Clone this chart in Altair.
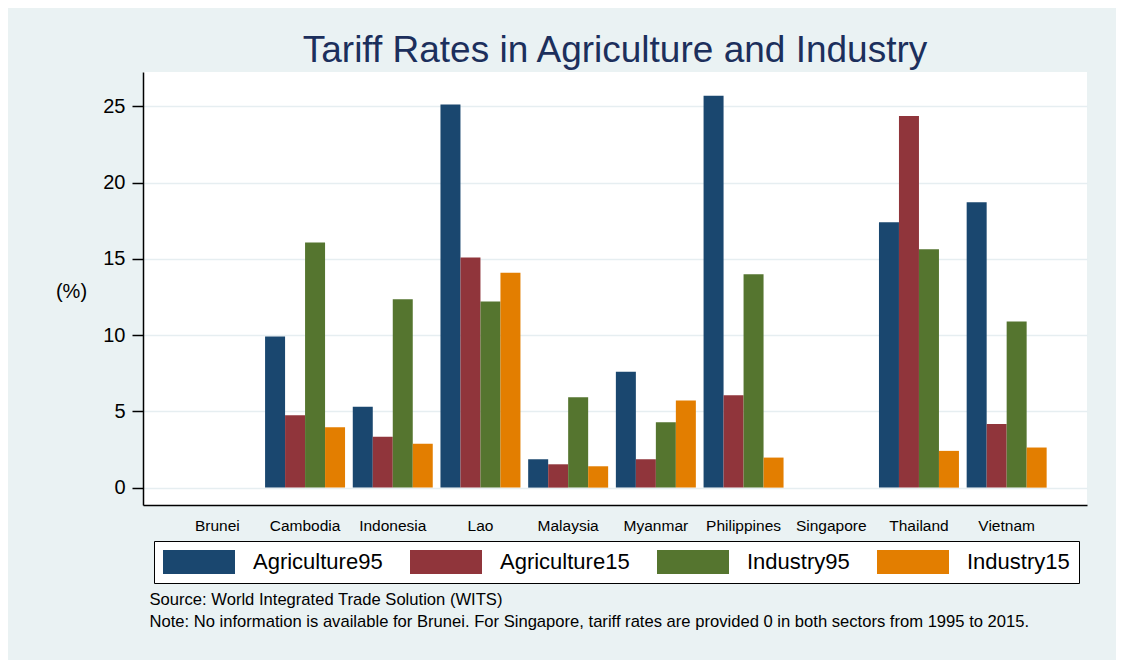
import altair as alt
import pandas as pd

countries = ["Brunei", "Cambodia", "Indonesia", "Lao", "Malaysia", "Myanmar",
             "Philippines", "Singapore", "Thailand", "Vietnam"]
series = ["Agriculture95", "Agriculture15", "Industry95", "Industry15"]
colors = ["#1a476f", "#90353b", "#55752f", "#e37e00"]

agriculture95 = [None, 9.91, 5.30, 25.13, 1.86, 7.60, 25.70, 0.0, 17.40, 18.72]
agriculture15 = [None, 4.75, 3.33, 15.10, 1.53, 1.86, 6.06, 0.0, 24.37, 4.18]
industry95 = [None, 16.08, 12.36, 12.20, 5.93, 4.29, 13.99, 0.0, 15.63, 10.90]
industry15 = [None, 3.96, 2.87, 14.10, 1.40, 5.71, 1.97, 0.0, 2.41, 2.63]

y_ticks = [0, 5, 10, 15, 20, 25]

rows = []
for s, vals in zip(series, [agriculture95, agriculture15, industry95, industry15]):
    for c, v in zip(countries, vals):
        rows.append({"country": c, "series": s, "value": v})
df = pd.DataFrame(rows)

FONT = "Liberation Sans"

bars = alt.Chart(df).mark_bar().encode(
    x=alt.X("country:N", sort=countries,
            scale=alt.Scale(paddingInner=0.088, paddingOuter=0.426, align=0.46),
            axis=alt.Axis(
                title=["Source: World Integrated Trade Solution (WITS)",
                       "Note: No information is available for Brunei. For Singapore, tariff rates are provided 0 in both sectors from 1995 to 2015."],
                titleX=6, titleY=99, titleAlign="left", titleAnchor="start",
                titleBaseline="alphabetic", titleAngle=0,
                titleFont=FONT, titleFontSize=16.6, titleFontWeight="normal",
                titleColor="black", titleLineHeight=22,
                labelAngle=0, labelFont=FONT, labelFontSize=15.5, labelColor="black",
                labelPadding=13, ticks=False, grid=False,
                domainColor="black", domainWidth=1.5)),
    xOffset=alt.XOffset("series:N", sort=series,
                        scale=alt.Scale(paddingInner=0, paddingOuter=0)),
    y=alt.Y("value:Q",
            scale=alt.Scale(domain=[-1.14, 27.26], nice=False, zero=False),
            axis=alt.Axis(
                title="(%)", titleAngle=0, titleX=-72, titleY=219,
                titleAlign="center", titleBaseline="middle",
                titleFont=FONT, titleFontSize=20, titleFontWeight="normal",
                titleColor="black",
                values=y_ticks, labelFont=FONT, labelFontSize=20,
                labelColor="black", labelPadding=7,
                tickSize=11, tickColor="black", tickWidth=1.5,
                domainColor="black", domainWidth=1.5,
                grid=True, gridColor="#e6eef1", gridWidth=1.5)),
    y2=alt.datum(0),
    color=alt.Color("series:N", sort=series,
                    scale=alt.Scale(domain=series, range=colors),
                    legend=alt.Legend(
                        title=None, orient="none", direction="horizontal",
                        columns=4, legendX=11, legendY=469,
                        symbolType="M-3,-1H3V1H-3Z", symbolSize=576,
                        symbolStrokeWidth=0, symbolOpacity=1,
                        symbolOffset=24, labelOffset=42,
                        labelFont=FONT, labelFontSize=22, labelColor="black",
                        columnPadding=27, padding=9,
                        fillColor="white", strokeColor="black")),
).properties(
    width=944, height=433,
    title=alt.TitleParams(
        text="Tariff Rates in Agriculture and Industry",
        font=FONT, fontSize=37, fontWeight="normal", color="#1c2f5c",
        anchor="middle", frame="group", baseline="alphabetic", offset=-27),
)

chart = bars.properties(
    autosize=alt.AutoSizeParams(type="none"),
    padding={"left": 135, "top": 64, "right": 29, "bottom": 155},
).configure(
    background="#eaf2f3",
).configure_view(
    fill="white", stroke=None,
)

chart.save("out.html", embed_options={"renderer": "svg", "actions": False})
